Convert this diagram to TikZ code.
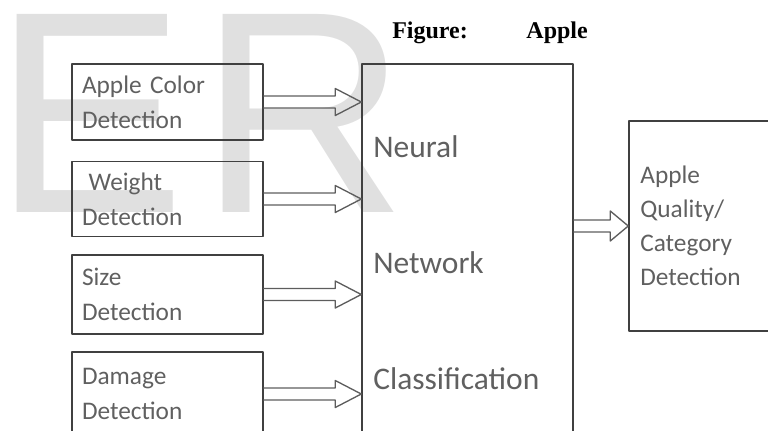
\documentclass[tikz,border=0pt]{standalone}
\usepackage{fontspec}
\setmainfont{Liberation Serif}
\newfontfamily\boxfont{Carlito}
\newfontfamily\wmfont{Liberation Sans}
\usepackage{xcolor}
\usepackage{tikz}
\usetikzlibrary{positioning,calc}
\definecolor{ink}{HTML}{606060}
\definecolor{edge}{HTML}{404040}
\definecolor{wmgray}{HTML}{E0E0E0}
\tikzset{
    every picture/.style={line cap=round,line join=round},
    stagebox/.style={draw=edge,line width=1.1pt,
      inner xsep=7.5pt,inner ysep=0pt,text width=128.25pt,align=left,
      text=ink,font=\boxfont\fontsize{19}{26.25}\selectfont},
    netbox/.style={stagebox,inner xsep=8.5pt,text width=141.25pt,
      minimum height=297.75pt,font=\boxfont\fontsize{23.6}{87}\selectfont},
    outbox/.style={stagebox,inner xsep=8.5pt,text width=95.5pt,
      minimum height=157.5pt,font=\boxfont\fontsize{19}{25.5}\selectfont},
    hollowline/.style={draw=edge!85,line width=1pt}
}
% open block arrow: start point, target node, head length, head half width
\newcommand{\hollowarrow}[4]{%
  \draw[hollowline] ($(#1)+(0,6)$) -- ($(#2.west|-#1)+(-#3,6)$) -- ++(0,#4-6)
    -- (#2.west|-#1) -- ($(#2.west|-#1)+(-#3,-#4)$) -- ++(0,#4-6) -- ($(#1)+(0,-6)$);}

\begin{document}
\begin{tikzpicture}[x=0.75pt,y=-0.75pt]
  \useasboundingbox (0,0) rectangle (768,430);
  \clip (0,0) rectangle (768,430);
  \node[anchor=base west,inner sep=0pt,text=wmgray,
    font=\wmfont\fontsize{216}{216}\selectfont] (wm) at (-7,212) {E\kern10.5pt R};
  \node[anchor=base west,inner sep=0pt,
    font=\bfseries\fontsize{18}{20}\selectfont] (caption) at (392,38) {Figure:\hspace*{44pt}Apple};
  \foreach \n/\y/\h/\t in {color/102/57/{Apple Color\\Detection},
      weight/199/56/{\hspace*{5pt}Weight\\Detection},
      size/294.5/59/{Size\\Detection},
      damage/394/63/{Damage\\Detection}}
    \node[stagebox,minimum height=\h pt] (\n) at (167.5,\y) {\t};
  \node[netbox] (net) at (467.5,262.5) {Neural\\Network\\Classification};
  \node[outbox] (quality) at (704,226) {Apple\\Quality/\\Category\\Detection};
  \foreach \n in {color,weight,size,damage}
    \hollowarrow{\n.east}{net}{26}{13.5}
  \coordinate (netout) at (net.east |- quality.west);
  \hollowarrow{netout}{quality}{18}{15}
\end{tikzpicture}
\end{document}
